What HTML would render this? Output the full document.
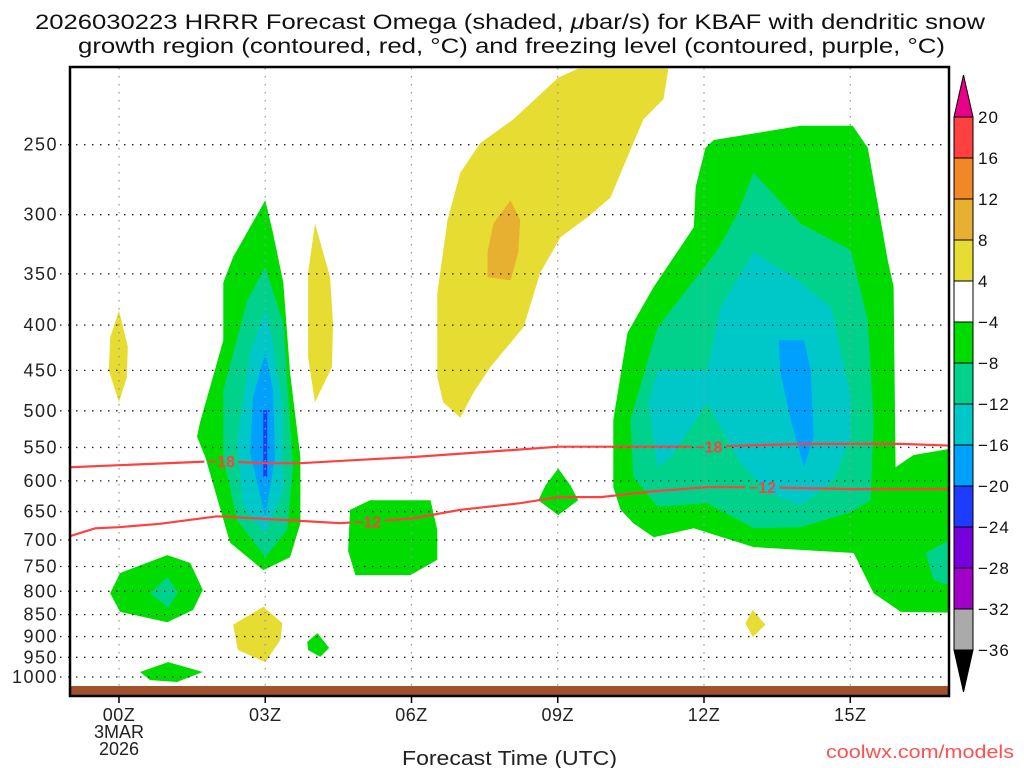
<!DOCTYPE html>
<html><head><meta charset="utf-8">
<style>
html,body{margin:0;padding:0;background:#fff;}
svg{display:block;font-family:"Liberation Sans",sans-serif;}
</style></head>
<body>
<svg id="chart" width="1024" height="768" viewBox="0 0 1024 768" xmlns="http://www.w3.org/2000/svg">
  <rect x="0" y="0" width="1024" height="768" fill="#fff"/>
  <text x="35" y="29" font-size="21" textLength="950" lengthAdjust="spacingAndGlyphs" fill="#111">2026030223 HRRR Forecast Omega (shaded, <tspan font-style="italic">μ</tspan>bar/s) for KBAF with dendritic snow</text>
  <text x="78" y="53" font-size="21" textLength="867" lengthAdjust="spacingAndGlyphs" fill="#111">growth region (contoured, red, °C) and freezing level (contoured, purple, °C)</text>
  <defs><clipPath id="plotclip"><rect x="70" y="67" width="879" height="629"/></clipPath></defs>
  <g id="shades" clip-path="url(#plotclip)"></g>
  <g id="grid"></g>
  <g id="lines" clip-path="url(#plotclip)"></g>
  <rect x="70" y="686" width="879" height="9" fill="#a0522d"/>
  <rect x="70" y="67" width="879" height="629" fill="none" stroke="#000" stroke-width="2.5"/>
  <g id="axes"></g>
  <g id="cbar"></g>
  <text x="402" y="765" font-size="20" textLength="215" lengthAdjust="spacingAndGlyphs" fill="#222">Forecast Time (UTC)</text>
  <text x="826" y="758" font-size="18" textLength="188" lengthAdjust="spacingAndGlyphs" fill="#ff5050">coolwx.com/models</text>
</svg>
<script>
// ---- data ----
const xTickHours = [0, 3, 6, 9, 12, 15];
const xTickLabels = ["00Z", "03Z", "06Z", "09Z", "12Z", "15Z"];
const yTickLevels = [250, 300, 350, 400, 450, 500, 550, 600, 650, 700, 750, 800, 850, 900, 950, 1000];
const cbarLevels = [20, 16, 12, 8, 4, -4, -8, -12, -16, -20, -24, -28, -32, -36];
const cbarColors = ["#ff4040", "#f08828", "#e8b030", "#e6dc32", "#ffffff", "#00dc00", "#00d28c", "#00c8c8", "#00a0ff", "#1e3cff", "#7800dc", "#a000c8", "#aaaaaa"];

// shaded omega regions: [hour, hPa]
const yellowBig = [[9.42,205],[11.27,205],[11.17,222],[10.76,234],[10.55,249],[10.08,287],[9.61,302],[9.06,318],[8.64,349],[8.30,402],[7.62,446],[7.27,477],[7.0,509],[6.65,489],[6.53,458],[6.53,368],[6.74,304],[7.0,269],[7.41,249],[8.09,234],[9.01,210]];
const orangeCore = [[8.03,289],[8.23,304],[8.19,331],[8.03,356],[7.56,353],[7.56,331],[7.68,307]];
const yellow00z = [[0,385],[0.18,423],[0.16,458],[0,489],[-0.21,450],[-0.18,413]];
const yellow04z = [[4.02,307],[4.33,353],[4.39,398],[4.37,446],[4.02,489],[3.88,435],[3.88,349]];
const yellowLow03z = [[2.96,833],[3.35,869],[3.31,908],[3.0,962],[2.44,932],[2.34,873]];
const yellow13z = [[13.0,840],[13.26,873],[13.0,901],[12.85,869]];
const green03z = [[3.0,289],[2.34,335],[2.14,358],[2.14,416],[1.66,516],[1.60,535],[1.77,564],[2.28,705],[2.96,757],[3.51,732],[3.72,670],[3.72,564],[3.51,453],[3.37,358],[3.16,315]];
const greenLowLeft = [[-0.18,804],[0.02,763],[0.99,728],[1.46,743],[1.72,797],[1.52,840],[0.99,867],[0.02,844]];
const green04z = [[4.07,892],[4.31,927],[4.13,949],[3.88,932],[3.86,913]];
const greenSfc = [[0.43,987],[1.01,962],[1.72,987],[1.19,1013],[0.64,1008]];
const green06z = [[5.15,631],[6.39,631],[6.53,682],[6.53,737],[5.98,767],[4.85,767],[4.70,720],[4.74,647]];
const green09z = [[9.01,581],[9.26,607],[9.42,631],[9.01,656],[8.60,631],[8.75,607]];
const greenBig = [[12.03,252],[12.20,247],[13.98,238],[15.05,238],[15.36,252],[15.56,291],[15.77,338],[15.89,362],[15.93,579],[16.30,561],[17.3,549],[17.3,846],[16.04,844],[15.48,804],[15.07,724],[13.02,713],[11.79,679],[10.97,695],[10.55,670],[10.29,647],[10.14,610],[10.14,512],[10.43,408],[10.97,362],[11.79,310],[11.83,279]];
const teal03z = [[3.0,344],[2.63,375],[2.14,474],[2.14,564],[2.42,664],[3.0,732],[3.45,682],[3.57,579],[3.37,398]];
const tealDiamond = [[0.99,771],[1.21,802],[1.01,835],[0.64,804]];
const tealBig = [[13.02,269],[13.98,307],[15.01,329],[15.36,395],[15.48,512],[15.42,631],[15.01,651],[13.98,677],[13.02,679],[12.07,636],[11.05,642],[10.55,594],[10.49,512],[11.05,402],[12.28,329],[12.69,299]];
const tealEdge = [[16.55,724],[17.3,687],[17.3,797],[16.71,777]];
const cyan03z = [[3.0,385],[2.69,430],[2.42,544],[2.55,642],[3.0,687],[3.37,615],[3.35,495],[3.14,413]];
const cyanBig = [[13.02,331],[13.84,353],[14.61,382],[15.01,482],[15.01,535],[14.66,599],[13.98,639],[13.31,619],[12.75,573],[12.07,490],[11.31,564],[11.05,579],[10.86,490],[11.05,450],[12.07,450],[12.34,382]];
const blue03z = [[3.0,430],[2.75,482],[2.69,558],[3.0,659],[3.20,564],[3.16,474]];
const blueBig = [[13.53,416],[14.05,416],[14.19,450],[14.25,535],[14.05,579],[13.78,512],[13.57,453]];
const darkBlue03z = [[2.96,499],[3.04,499],[3.04,594],[2.96,594]];

// red contours: [hour, hPa]
const line18 = [[-1.6,581],[0,576],[2.01,570],[3.0,573],[3.72,573],[4.95,568],[6.0,564],[7.82,555],[9.01,549],[12.03,549],[13.98,545],[16.04,545],[17.3,548]];
const line12 = [[-1.6,715],[-1.01,693],[-0.49,679],[0,677],[0.84,671],[2.01,658],[2.69,661],[3.72,666],[4.54,670],[6.0,662],[7.0,647],[8.23,636],[9.01,626],[9.88,626],[10.90,617],[12.03,610],[13.16,610],[15.01,613],[17.3,613]];
const labels18 = [[2.1,570],[12.1,549]];
const labels12 = [[5.1,667],[13.2,610]];

// ---- scales ----
function xs(h){ return 119 + h*48.75; }
function ys(p){ return 677 - 384*Math.log(1000/p); }
const NS = "http://www.w3.org/2000/svg";
function mk(tag, attrs, parent){
  const e = document.createElementNS(NS, tag);
  for (const k in attrs) e.setAttribute(k, attrs[k]);
  parent.appendChild(e);
  return e;
}
const shades = document.getElementById('shades');
function poly(pts, color, name){
  const e = mk('polygon', {points: pts.map(p => xs(p[0]).toFixed(1)+','+ys(p[1]).toFixed(1)).join(' '), fill: color}, shades);
  
  
}
poly(yellowBig, "#e6dc32", "omega-4-8-upper");
poly(orangeCore, "#e8b030", "omega-8-12-core");
poly(yellow00z, "#e6dc32", "omega-4-8-00z");
poly(yellow04z, "#e6dc32", "omega-4-8-04z");
poly(yellowLow03z, "#e6dc32", "omega-4-8-low-03z");
poly(yellow13z, "#e6dc32", "omega-4-8-13z");
poly(green03z, "#00dc00", "omega-neg4-03z");
poly(greenLowLeft, "#00dc00", "omega-neg4-low-left");
poly(green04z, "#00dc00", "omega-neg4-04z");
poly(greenSfc, "#00dc00", "omega-neg4-surface");
poly(green06z, "#00dc00", "omega-neg4-06z");
poly(green09z, "#00dc00", "omega-neg4-09z");
poly(greenBig, "#00dc00", "omega-neg4-big");
poly(teal03z, "#00d28c", "omega-neg8-03z");
poly(tealDiamond, "#00d28c", "omega-neg8-diamond");
poly(tealBig, "#00d28c", "omega-neg8-big");
poly(tealEdge, "#00d28c", "omega-neg8-edge");
poly(cyan03z, "#00c8c8", "omega-neg12-03z");
poly(cyanBig, "#00c8c8", "omega-neg12-big");
poly(blue03z, "#00a0ff", "omega-neg16-03z");
poly(blueBig, "#00a0ff", "omega-neg16-big");
poly(darkBlue03z, "#1e3cff", "omega-neg20-03z");

// grid
const grid = document.getElementById('grid');
yTickLevels.forEach(p => {
  const l = mk('line', {x1: 60, x2: 948, y1: ys(p), y2: ys(p), stroke: '#222', 'stroke-width': 1.3, 'stroke-dasharray': '1.5 6.5'}, grid);
  
  
});
xTickHours.forEach(h => {
  const l = mk('line', {x1: xs(h), x2: xs(h), y1: 68, y2: 686, stroke: '#999', 'stroke-width': 1.3, 'stroke-dasharray': '1.5 6.5'}, grid);
  
  
});

// contour lines with gaps at labels
const lines = document.getElementById('lines');
const maskDefs = mk('defs', {}, lines);
const mask = mk('mask', {id: 'labelgap', maskUnits: 'userSpaceOnUse', x: 0, y: 0, width: 1024, height: 768}, maskDefs);
mk('rect', {x: 0, y: 0, width: 1024, height: 768, fill: '#fff'}, mask);
labels18.concat(labels12).forEach(p => {
  mk('rect', {x: xs(p[0]) - 17, y: ys(p[1]) - 8, width: 34, height: 16, fill: '#000'}, mask);
});
function contour(pts, name){
  const e = mk('polyline', {points: pts.map(p => xs(p[0]).toFixed(1)+','+ys(p[1]).toFixed(1)).join(' '), fill: 'none', stroke: '#ff4040', 'stroke-width': 2.2, mask: 'url(#labelgap)'}, lines);
  
  
}
contour(line18, 'contour-minus18');
contour(line12, 'contour-minus12');
function clabel(list, txt, name){
  list.forEach(p => {
    const t = mk('text', {x: xs(p[0]), y: ys(p[1]) + 6, 'font-size': 16, 'font-weight': 'bold', fill: '#ff4040', 'text-anchor': 'middle'}, lines);
    t.textContent = txt;
    
    
  });
}
clabel(labels18, '−18', 'contour-label-minus18');
clabel(labels12, '−12', 'contour-label-minus12');

// axes labels
const axes = document.getElementById('axes');
yTickLevels.forEach(p => {
  const t = mk('text', {x: 58, y: ys(p) + 6, 'font-size': 18, 'text-anchor': 'end', 'letter-spacing': 1.5, fill: '#222'}, axes);
  t.textContent = String(p);
  
  
});
xTickHours.forEach((h, i) => {
  const tk = mk('line', {x1: xs(h), x2: xs(h), y1: 696, y2: 703, stroke: '#000', 'stroke-width': 1.5}, axes);
  
  
  const t = mk('text', {x: xs(h), y: 721, 'font-size': 18, 'text-anchor': 'middle', 'letter-spacing': 0.5, fill: '#222'}, axes);
  t.textContent = xTickLabels[i];
  
  
});
[["3MAR", 738], ["2026", 755]].forEach(d => {
  const t = mk('text', {x: xs(0), y: d[1], 'font-size': 18, 'text-anchor': 'middle', fill: '#222'}, axes);
  t.textContent = d[0];
  
  
});

// colorbar
const cbar = document.getElementById('cbar');
const cbX = 954, cbW = 19, cbTop = 117, cbStep = 41;
const tri1 = mk('polygon', {points: `${cbX},${cbTop} ${cbX+cbW},${cbTop} ${cbX+cbW/2},75`, fill: '#e8008a', stroke: '#000', 'stroke-width': 1}, cbar);


cbarColors.forEach((c, i) => {
  const r = mk('rect', {x: cbX, y: cbTop + i*cbStep, width: cbW, height: cbStep, fill: c, stroke: '#000', 'stroke-width': 1}, cbar);
  
  
});
const botY = cbTop + cbarColors.length*cbStep;
const tri2 = mk('polygon', {points: `${cbX},${botY} ${cbX+cbW},${botY} ${cbX+cbW/2},${botY+42}`, fill: '#000', stroke: '#000', 'stroke-width': 1}, cbar);


cbarLevels.forEach((v, i) => {
  const t = mk('text', {x: 978, y: cbTop + i*cbStep + 6, 'font-size': 17, 'letter-spacing': 1, fill: '#111'}, cbar);
  t.textContent = v < 0 ? '−' + Math.abs(v) : String(v);
  
  
});
</script>
</body></html>
